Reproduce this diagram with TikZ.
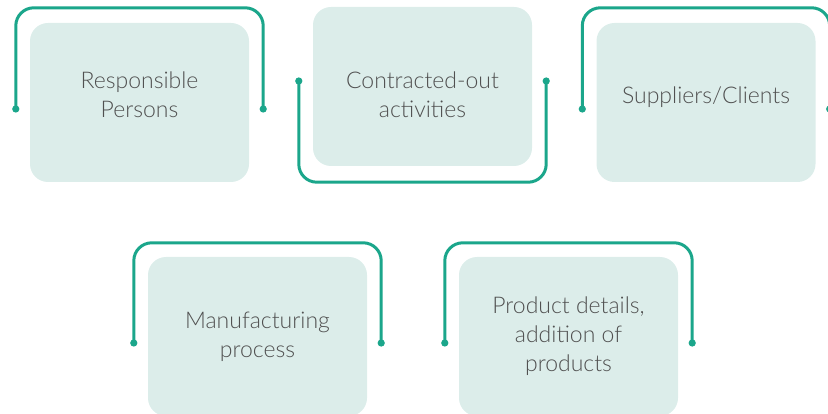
\documentclass[tikz,border=0pt]{standalone}
\usepackage{fontspec}
\setmainfont{Lato Light}
\usetikzlibrary{arrows.meta}
\definecolor{tealline}{HTML}{1BA68B}
\definecolor{cardfill}{HTML}{DCEDEA}
\definecolor{txtgray}{HTML}{505050}
\tikzset{
  card/.style={fill=cardfill, rounded corners=18pt, minimum width=219pt,
    minimum height=159pt, inner sep=0pt},
  caption/.style={text=txtgray, align=center, font=\fontsize{23}{29}\selectfont},
  bracket/.style={draw=tealline, line width=3pt, rounded corners=18pt,
    {Circle[length=7pt]}-{Circle[length=7pt]}},
}
\begin{document}
\begin{tikzpicture}[x=1pt,y=-1pt]
  \useasboundingbox (0,0) rectangle (828,414);
  % Tarjetas: fila superior y fila inferior
  \node[card] (resp)  at (139.5,102.5) {};
  \node[card] (contr) at (422.5,86.5)  {};
  \node[card] (supp)  at (706,102.5)   {};
  \node[card] (manuf) at (257.5,336.5) {};
  \node[card] (prod)  at (568.5,336.5) {};
  \node[caption] (respTxt)  at ([yshift=7.5pt]resp.center)  {Responsible\\Persons};
  \node[caption] (contrTxt) at ([yshift=-8.5pt]contr.center) {Contracted-out\\activities};
  \node[caption] (suppTxt)  at ([yshift=5.5pt]supp.center)  {Suppliers/Clients};
  \node[caption] (manufTxt) at (manuf.center) {Manufacturing\\process};
  \node[caption] (prodTxt)  at (prod.center)  {Product details,\\addition of\\products};
  % Corchetes con puntos en los extremos
  \draw[bracket] ([shift={(-14pt,-10pt)}]resp.west) |- ([yshift=15pt]resp.north)
    -| ([shift={(14pt,-10pt)}]resp.east);
  \draw[bracket] ([shift={(-14pt,9pt)}]contr.west) |- ([yshift=-16pt]contr.south)
    -| ([shift={(14pt,9pt)}]contr.east);
  \draw[bracket] ([shift={(-14pt,-10pt)}]supp.west) |- ([yshift=15pt]supp.north)
    -| ([shift={(14pt,-10pt)}]supp.east);
  \draw[bracket] ([shift={(-14pt,-10pt)}]manuf.west) |- ([yshift=14pt]manuf.north)
    -| ([shift={(14pt,-10pt)}]manuf.east);
  \draw[bracket] ([shift={(-14pt,-10pt)}]prod.west) |- ([yshift=14pt]prod.north)
    -| ([shift={(14pt,-10pt)}]prod.east);
\end{tikzpicture}
\end{document}
